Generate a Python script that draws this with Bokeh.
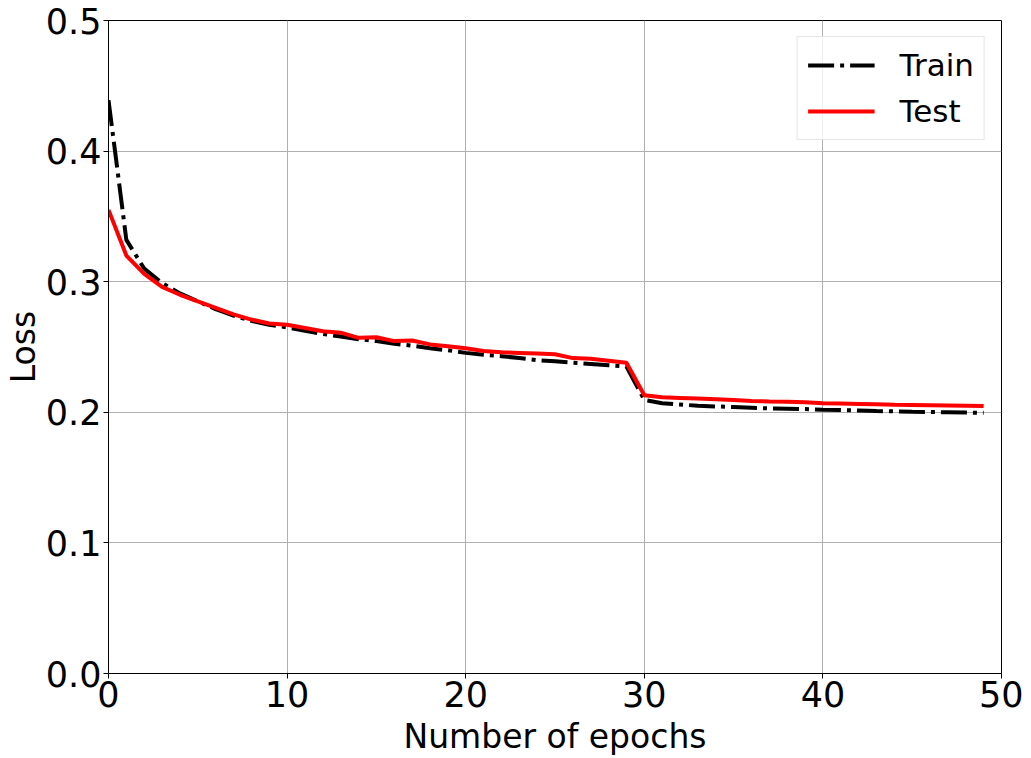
from bokeh.plotting import figure
from bokeh.models import Range1d, FixedTicker, PrintfTickFormatter, Legend, LegendItem
from bokeh.embed import file_html
from bokeh.resources import INLINE

epochs = list(range(50))
train_loss = [0.439, 0.332, 0.310, 0.299, 0.291, 0.285, 0.279, 0.274, 0.270, 0.267,
              0.265, 0.2625, 0.260, 0.258, 0.256, 0.2545, 0.2525, 0.251, 0.249, 0.2475,
              0.2455, 0.244, 0.243, 0.2415, 0.240, 0.239, 0.238, 0.237, 0.236, 0.235,
              0.2095, 0.207, 0.206, 0.205, 0.2045, 0.204, 0.2035, 0.203, 0.2028, 0.2025,
              0.202, 0.2017, 0.2014, 0.201, 0.2007, 0.2004, 0.2002, 0.200, 0.1998, 0.1996]
test_loss = [0.355, 0.320, 0.306, 0.296, 0.290, 0.285, 0.280, 0.275, 0.271, 0.268,
             0.267, 0.2645, 0.262, 0.261, 0.257, 0.2575, 0.2545, 0.255, 0.252, 0.2505,
             0.249, 0.247, 0.246, 0.2455, 0.245, 0.2445, 0.2415, 0.241, 0.2395, 0.238,
             0.213, 0.2115, 0.211, 0.2105, 0.210, 0.2095, 0.2087, 0.2083, 0.208, 0.2077,
             0.207, 0.2067, 0.2064, 0.2061, 0.2058, 0.2056, 0.2054, 0.2052, 0.205, 0.2048]
x_ticks = [0, 10, 20, 30, 40, 50]
y_ticks = [0.0, 0.1, 0.2, 0.3, 0.4, 0.5]

FONT = "DejaVu Sans"

p = figure(width=1023, height=758, output_backend="svg", toolbar_location=None,
           x_range=Range1d(0, 50), y_range=Range1d(0, 0.5))
p.min_border_left = 108
p.min_border_right = 22
p.min_border_top = 20
p.min_border_bottom = 84
p.background_fill_color = "white"
p.border_fill_color = "white"
p.outline_line_color = "black"
p.outline_line_width = 1

for ax in (p.xaxis[0], p.yaxis[0]):
    ax.axis_line_color = "black"
    ax.major_tick_line_color = "black"
    ax.major_tick_out = 5
    ax.major_tick_in = 0
    ax.minor_tick_line_color = None
    ax.major_label_text_font = FONT
    ax.major_label_text_font_size = "35px"
    ax.major_label_text_color = "black"
    ax.axis_label_text_font = FONT
    ax.axis_label_text_font_size = "33px"
    ax.axis_label_text_font_style = "normal"
    ax.axis_label_text_color = "black"
    ax.major_label_standoff = 2

p.xaxis.ticker = FixedTicker(ticks=x_ticks)
p.yaxis.ticker = FixedTicker(ticks=y_ticks)
p.yaxis.formatter = PrintfTickFormatter(format="%.1f")
p.xaxis.axis_label = "Number of epochs"
p.yaxis.axis_label = "Loss"
p.xaxis.axis_label_standoff = 7
p.yaxis.axis_label_standoff = 0

p.xgrid.ticker = FixedTicker(ticks=x_ticks)
p.ygrid.ticker = FixedTicker(ticks=y_ticks)
p.grid.grid_line_color = "#b0b0b0"
p.grid.grid_line_width = 1

r_train = p.line(epochs, train_loss, line_color="black", line_width=4, line_dash="26 6 4 6")
r_test = p.line(epochs, test_loss, line_color="#ff0000", line_width=4)

legend = Legend(items=[LegendItem(label="Train", renderers=[r_train]),
                       LegendItem(label="Test", renderers=[r_test])],
                location="top_right")
legend.margin = 16
legend.padding = 10
legend.spacing = 10
legend.label_text_font = FONT
legend.label_text_font_size = "31px"
legend.label_text_color = "black"
legend.label_height = 36
legend.glyph_height = 36
legend.glyph_width = 67
legend.label_standoff = 25
legend.border_line_color = "#cccccc"
legend.border_line_width = 1
legend.background_fill_alpha = 0.8
p.add_layout(legend, "center")

open("out.html", "w").write(file_html(p, INLINE))
